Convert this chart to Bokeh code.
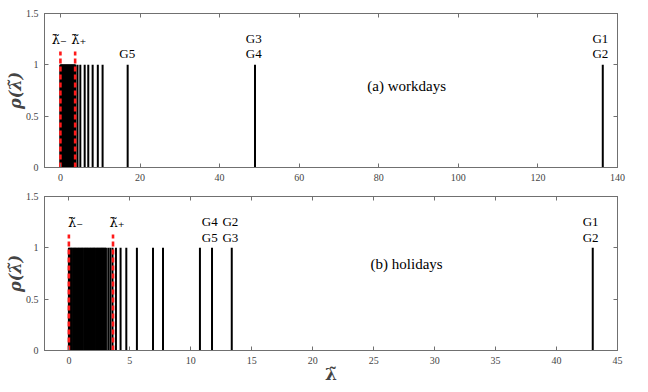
from bokeh.plotting import figure
from bokeh.layouts import column
from bokeh.models import LinearAxis, FixedTicker, Range1d
from bokeh.embed import file_html
from bokeh.resources import INLINE
from bokeh.core.properties import value

# ---------------- data ----------------
# (a) workdays: normalized eigenvalues (lambda tilde), each with rho = 1
work_lambda = [0.0, 0.06, 0.12, 0.19, 0.27, 0.33, 0.41, 0.48, 0.55, 0.63, 0.7,
               0.78, 0.85, 0.93, 1.0, 1.08, 1.15, 1.23, 1.3, 1.38, 1.46, 1.53,
               1.6, 1.68, 1.76, 1.83, 1.91, 1.98, 2.06, 2.14, 2.21, 2.29, 2.36,
               2.44, 2.52, 2.6, 2.67, 2.75, 2.82, 2.9, 2.98, 3.05, 3.13, 3.2,
               3.28, 3.36, 3.44, 3.52, 3.6, 3.68, 3.76,
               4.3, 5.0, 6.1, 7.0, 8.1, 9.4, 10.6, 16.9, 48.9, 136.3]
work_bounds = [0.0, 3.7]          # lambda_-, lambda_+
work_ticks = [0, 20, 40, 60, 80, 100, 120, 140]

# (b) holidays
hol_lambda = [0.0, 0.08, 0.17, 0.25, 0.36, 0.44, 0.53, 0.61, 0.72, 0.8, 0.89,
              0.98, 1.07, 1.15, 1.26, 1.34, 1.43, 1.52, 1.6, 1.71, 1.79, 1.88,
              1.97, 2.06, 2.14, 2.25, 2.33, 2.42, 2.51, 2.6, 2.69, 2.77, 2.86,
              2.95, 3.04,
              3.23, 3.4, 3.58, 3.86, 4.24, 4.71, 5.58, 6.9, 7.72, 10.75, 11.74,
              13.36, 42.97]
hol_bounds = [0.0, 3.62]
hol_ticks = [0, 5, 10, 15, 20, 25, 30, 35, 40, 45]

y_ticks = [0, 0.5, 1, 1.5]
y_tick_labels = {0: "0", 0.5: "0.5", 1: "1", 1.5: "1.5"}
RHO = 1.0
MARK_TOP = 1.13

# annotations: group labels
work_glabels = ["G5", "G3", "G4", "G1", "G2"]
work_gx = [16.8, 48.6, 48.6, 135.7, 135.7]
work_gy = [1.11, 1.26, 1.11, 1.26, 1.11]
hol_glabels = ["G4", "G5", "G2", "G3", "G1", "G2"]
hol_gx = [11.55, 11.55, 13.25, 13.25, 42.8, 42.8]
hol_gy = [1.26, 1.10, 1.26, 1.10, 1.26, 1.10]

bound_labels = ["λ̃₋", "λ̃₊"]
work_blx = [-0.3, 4.6]
hol_blx = [0.55, 3.95]
bl_y = 1.25

SERIF = "Liberation Serif"
AXC = "#707070"


def style_axis(ax, show_labels=True):
    ax.major_tick_in = 4
    ax.major_tick_out = 0
    ax.minor_tick_line_color = None
    ax.axis_line_color = AXC
    ax.major_tick_line_color = AXC
    ax.major_label_text_font = SERIF
    ax.major_label_text_font_size = "10px"
    ax.major_label_text_color = "#444444"
    ax.major_label_standoff = 6
    if not show_labels:
        ax.major_label_text_color = None
        ax.major_label_text_alpha = 0
        ax.major_label_standoff = 0


def panel(lams, bounds, xr, xticks, glabels, gx, gy, blx, title, tx, ty,
          top, bottom, xlabel=None):
    p = figure(frame_width=573, frame_height=154, output_backend="svg",
               toolbar_location=None, x_range=Range1d(*xr),
               y_range=Range1d(0, 1.5), min_border_left=44,
               min_border_right=13, min_border_top=top, min_border_bottom=bottom)
    p.grid.visible = False
    p.outline_line_color = AXC
    p.background_fill_color = "white"

    xax = p.xaxis[0]
    yax = p.yaxis[0]
    xax.ticker = FixedTicker(ticks=xticks)
    yax.ticker = FixedTicker(ticks=y_ticks)
    yax.major_label_overrides = y_tick_labels
    style_axis(xax)
    style_axis(yax)

    top_ax = LinearAxis(ticker=FixedTicker(ticks=xticks))
    style_axis(top_ax, False)
    p.add_layout(top_ax, "above")
    right_ax = LinearAxis(ticker=FixedTicker(ticks=y_ticks))
    style_axis(right_ax, False)
    p.add_layout(right_ax, "right")

    yax.axis_label = "ρ(λ̃)"
    yax.axis_label_text_font = "DejaVu Serif"
    yax.axis_label_text_font_size = "16px"
    yax.axis_label_text_font_style = "bold italic"
    yax.axis_label_standoff = -2
    if xlabel:
        xax.axis_label = xlabel
        xax.axis_label_text_font = "DejaVu Serif"
        xax.axis_label_text_font_size = "17px"
        xax.axis_label_text_font_style = "bold"
        xax.axis_label_standoff = -3

    p.segment(x0=lams, y0=[0] * len(lams), x1=lams, y1=[RHO] * len(lams),
              line_color="black", line_width=2)
    p.segment(x0=bounds, y0=[0, 0], x1=bounds, y1=[MARK_TOP] * 2,
              line_color="#ff1a1a", line_width=2.6, line_dash="5 3")

    p.text(x=gx, y=gy, text=glabels, text_font=value(SERIF),
           text_font_size="13px", text_align="center",
           text_baseline="middle", text_color="black")
    p.text(x=blx, y=[bl_y] * 2, text=bound_labels, text_font=value("DejaVu Serif"),
           text_font_size="13px", text_align="center",
           text_baseline="middle", text_color="black")
    p.text(x=[tx], y=[ty], text=[title], text_font=value(SERIF),
           text_font_size="15px", text_align="center",
           text_baseline="middle", text_color="black")
    return p


p1 = panel(work_lambda, work_bounds, (-4, 140), work_ticks, work_glabels,
           work_gx, work_gy, work_blx, "(a) workdays", 87, 0.79, 13, 23)
p2 = panel(hol_lambda, hol_bounds, (-2, 45), hol_ticks, hol_glabels,
           hol_gx, hol_gy, hol_blx, "(b) holidays", 27.7, 0.84, 6, 34,
           xlabel="λ̃")

layout = column(p1, p2, spacing=0)
open("out.html", "w").write(file_html(layout, INLINE))
